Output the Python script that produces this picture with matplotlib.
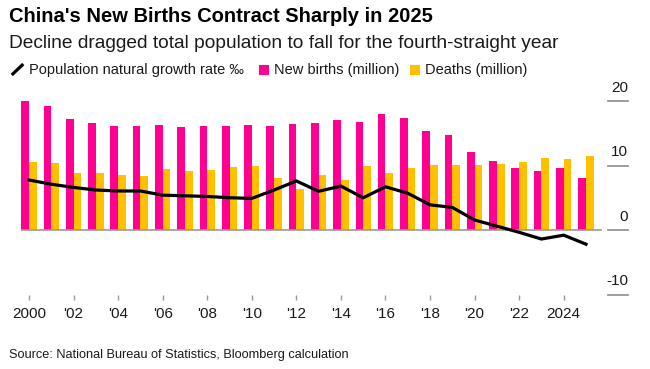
import matplotlib
matplotlib.use("Agg")
import matplotlib.pyplot as plt
import matplotlib.transforms as mtransforms
from matplotlib.lines import Line2D
from matplotlib.patches import Rectangle
import numpy as np

years = list(range(2000, 2026))
births = [20.0, 19.2, 17.2, 16.6, 16.1, 16.1, 16.3, 16.0, 16.05, 16.2, 16.25, 16.1, 16.45,
          16.55, 17.0, 16.7, 18.0, 17.35, 15.3, 14.7, 12.1, 10.7, 9.65, 9.15, 9.6, 8.05]
deaths = [10.5, 10.4, 8.9, 8.9, 8.5, 8.4, 9.4, 9.2, 9.35, 9.8, 9.9, 8.0, 6.4,
          8.5, 7.8, 9.9, 8.9, 9.55, 10.05, 10.1, 10.1, 10.25, 10.55, 11.2, 11.0, 11.45]
growth = [7.75, 7.1, 6.6, 6.2, 6.05, 6.05, 5.4, 5.3, 5.2, 5.0, 4.9, 6.2, 7.6,
          6.0, 6.8, 5.0, 6.7, 5.7, 3.9, 3.5, 1.55, 0.6, -0.36, -1.4, -0.8, -2.2]
xtick_years = list(range(2000, 2025, 2))
xtick_labels = ["2000", "'02", "'04", "'06", "'08", "'10", "'12", "'14", "'16", "'18",
                "'20", "'22", "2024"]
ytick_values = [20, 10, 0, -10]
ytick_labels = ["20", "10", "0", "-10"]

PINK = "#ff0090"
YELLOW = "#ffc000"
FONT = "Liberation Sans"

W, H = 650, 369
fig = plt.figure(figsize=(W / 100, H / 100), dpi=100)

# axes geometry in pixels
left_px, right_px = 21, 601.7
y0_px, px_per_unit = 230, 6.45
ymin, ymax = -10, 21
top_px = y0_px - ymax * px_per_unit
bot_px = y0_px - ymin * px_per_unit
ax = fig.add_axes([left_px / W, 1 - bot_px / H, (right_px - left_px) / W, (bot_px - top_px) / H])

x = np.array(years, dtype=float)
bw = 0.345
ax.bar(x - bw / 2, births, width=bw, color=PINK, linewidth=0, zorder=2)
ax.bar(x + bw / 2, deaths, width=bw, color=YELLOW, linewidth=0, zorder=2)
ax.axhline(0, color="#999999", lw=1.2, zorder=3)
ax.plot(x, growth, color="black", lw=2.3, zorder=4, solid_joinstyle="miter")

ax.set_xlim(2000 - 0.36, 2025 + 0.705)
ax.set_ylim(ymin, ymax)
for s in ax.spines.values():
    s.set_visible(False)
ax.set_yticks([])
ax.set_xticks(xtick_years)
ax.set_xticklabels(xtick_labels, fontfamily=FONT, fontsize=11, color="#1a1a1a")
ax.tick_params(axis="x", length=3.6, width=1.0, color="#999999", pad=5.5)

# right-hand value ticks: short rule with label above
trans = mtransforms.blended_transform_factory(ax.transAxes, ax.transData)
ax_w_px = right_px - left_px
x_a = (608 - left_px) / ax_w_px
x_b = (628 - left_px) / ax_w_px
for v, lab in zip(ytick_values, ytick_labels):
    ax.plot([x_a, x_b], [v, v], transform=trans, color="#8c8c8c", lw=1.2, clip_on=False)
    off = mtransforms.offset_copy(trans, fig=fig, x=0, y=6.5, units="points")
    ax.text(x_b, v, lab, transform=off, ha="right", va="baseline",
            fontfamily=FONT, fontsize=11, color="#1a1a1a")

# title, subtitle
fig.text(9 / W, 1 - 16 / H, "China's New Births Contract Sharply in 2025", fontfamily=FONT,
         fontweight="bold", fontsize=14.5, va="center", ha="left", color="black")
fig.text(9 / W, 1 - 44 / H, "Decline dragged total population to fall for the fourth-straight year",
         fontfamily=FONT, fontsize=13.8, va="center", ha="left", color="#1a1a1a")

# legend
ly = 1 - 70 / H
fig.add_artist(Line2D([11.7 / W, 23.3 / W], [1 - 75 / H, 1 - 64 / H], color="black", lw=2.3,
                      solid_capstyle="butt"))
fig.text(29 / W, ly, "Population natural growth rate \u2030", fontfamily=FONT, fontsize=10.5,
         va="center", ha="left", color="#1a1a1a")
fig.add_artist(Rectangle((259 / W, 1 - 75 / H), 10 / W, 10 / H, color=PINK, lw=0))
fig.text(274 / W, ly, "New births (million)", fontfamily=FONT, fontsize=10.5,
         va="center", ha="left", color="#1a1a1a")
fig.add_artist(Rectangle((410 / W, 1 - 75 / H), 10 / W, 10 / H, color=YELLOW, lw=0))
fig.text(425 / W, ly, "Deaths (million)", fontfamily=FONT, fontsize=10.5,
         va="center", ha="left", color="#1a1a1a")

# source
fig.text(9 / W, 1 - 355 / H, "Source: National Bureau of Statistics, Bloomberg calculation",
         fontfamily=FONT, fontsize=9.2, va="center", ha="left", color="#1a1a1a")

fig.savefig("out.png", dpi=100)
